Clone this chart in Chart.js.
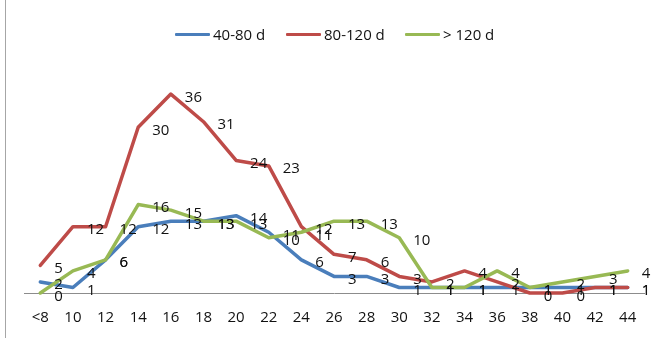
<!DOCTYPE html>
<html>
<head>
<meta charset="utf-8">
<script src="https://cdn.jsdelivr.net/npm/chart.js@4/dist/chart.umd.min.js"></script>
<style>
  html, body { margin: 0; padding: 0; background: #fff; }
  #wrap { position: relative; width: 653px; height: 338px; overflow: hidden; }
  #frame { position: absolute; left: 5px; top: 0; width: 1px; height: 338px; background: #a6a6a6; }
  canvas { position: absolute; left: 0; top: 0; }
  .key { position: absolute; top: 24px; height: 20px; display: flex; align-items: center;
         font: 15px "Open Sans", sans-serif; color: #111; white-space: nowrap; }
  .key i { display: inline-block; width: 35px; height: 3px; margin-right: 3px; border-radius: 1px; }
</style>
</head>
<body>
<div id="wrap">
  <canvas id="chart" width="653" height="338"></canvas>
  <div id="frame"></div>
  <div class="key" style="left:175px"><i style="background:#4a7ebb"></i>40-80 d</div>
  <div class="key" style="left:286px"><i style="background:#be4b48"></i>80-120 d</div>
  <div class="key" style="left:405px"><i style="background:#98b954"></i>&gt; 120 d</div>
</div>
<script>
// Length classes along the bottom axis
const categories = ['<8', '10', '12', '14', '16', '18', '20', '22', '24', '26',
                    '28', '30', '32', '34', '36', '38', '40', '42', '44'];

// Counts per length class for each age group
const seriesNames = ['40-80 d', '80-120 d', '> 120 d'];
const age40to80  = [2, 1, 6, 12, 13, 13, 14, 11, 6, 3, 3, 1, 1, 1, 1, 1, 1, 1, 1];
const age80to120 = [5, 12, 12, 30, 36, 31, 24, 23, 12, 7, 6, 3, 2, 4, 2, 0, 0, 1, 1];
const ageOver120 = [0, 4, 6, 16, 15, 13, 13, 10, 11, 13, 13, 10, 1, 1, 4, 1, 2, 3, 4];

const seriesColors = ['#4a7ebb', '#be4b48', '#98b954'];

// Writes each point's value just to the right of it
const valueLabels = {
  id: 'valueLabels',
  afterDatasetsDraw(chart) {
    const ctx = chart.ctx;
    ctx.save();
    ctx.font = '15px "Open Sans", sans-serif';
    ctx.fillStyle = '#111';
    ctx.textAlign = 'left';
    ctx.textBaseline = 'alphabetic';
    chart.data.datasets.forEach((ds, i) => {
      const meta = chart.getDatasetMeta(i);
      meta.data.forEach((pt, j) => {
        ctx.fillText(String(ds.data[j]), pt.x + 14, pt.y + 7.5);
      });
    });
    ctx.restore();
  }
};

function lineSet(label, data, color, order) {
  return {
    label, data, order,
    borderColor: color,
    backgroundColor: color,
    borderWidth: 3.5,
    borderJoinStyle: 'round',
    borderCapStyle: 'round',
    pointRadius: 0,
    pointHoverRadius: 0,
    tension: 0,
    clip: false,
    fill: false
  };
}

new Chart(document.getElementById('chart'), {
  type: 'line',
  data: {
    labels: categories,
    datasets: [
      lineSet(seriesNames[0], age40to80, seriesColors[0], 3),
      lineSet(seriesNames[1], age80to120, seriesColors[1], 2),
      lineSet(seriesNames[2], ageOver120, seriesColors[2], 1)
    ]
  },
  options: {
    responsive: false,
    animation: false,
    devicePixelRatio: 1,
    layout: { padding: { left: 24, right: 9, top: 72, bottom: 11 } },
    plugins: {
      legend: { display: false },
      tooltip: { enabled: false }
    },
    scales: {
      x: {
        type: 'category',
        offset: true,
        grid: { display: false, drawTicks: true, tickLength: 16 },
        border: { display: true, color: '#8c8c8c', width: 1 },
        ticks: {
          padding: 0,
          color: '#111',
          maxRotation: 0,
          autoSkip: false,
          font: { family: '"Open Sans", sans-serif', size: 15, lineHeight: 1.2 }
        }
      },
      y: {
        display: false,
        min: 0,
        max: 40
      }
    }
  },
  plugins: [valueLabels]
});
</script>
</body>
</html>
